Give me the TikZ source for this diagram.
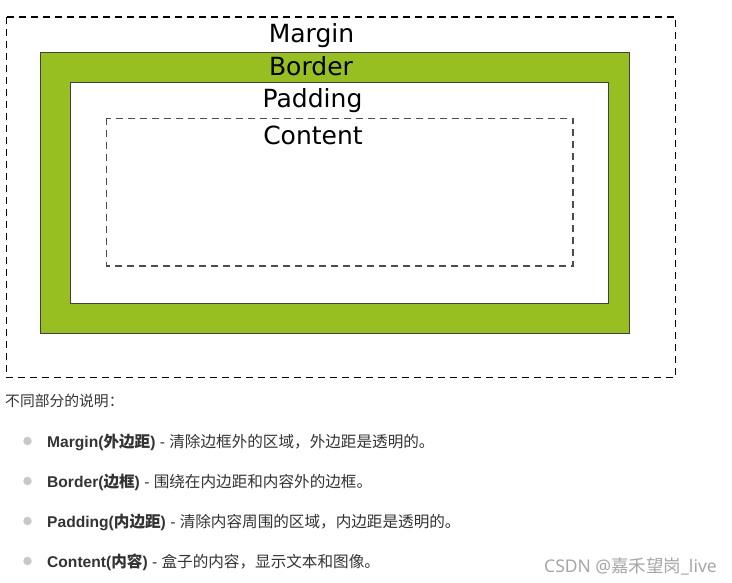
\documentclass[tikz,border=0pt]{standalone}
\usepackage{fontspec}
\setmainfont{Liberation Sans}
\newfontfamily\cjk{Noto Sans CJK SC}
\newfontfamily\dv{DejaVu Sans}
\newfontfamily\nsans{Noto Sans}
\definecolor{bordergreen}{HTML}{98BF21}
\definecolor{txt}{HTML}{333333}
\definecolor{bul}{HTML}{C8C8C8}
\tikzset{
  lbl/.style={anchor=base, inner sep=0pt, font=\dv\fontsize{25}{28}\selectfont},
  itemtext/.style={anchor=base west, inner sep=0pt, text=txt, font=\fontsize{15.6}{18}\selectfont},
  bulletdot/.style={circle, fill=bul, minimum size=8.5pt, inner sep=0pt},
  marginbox/.style={draw=black, line width=1.1pt, dash pattern=on 7pt off 5pt},
  contentbox/.style={draw=black!70, line width=1.1pt, dash pattern=on 7pt off 5pt},
}
\begin{document}
\begin{tikzpicture}[x=1pt,y=-1pt]
\useasboundingbox (0,0) rectangle (732,583);
% boxes
\draw[marginbox] (6.5,17) rectangle (675.5,377.5);
\draw[fill=bordergreen, draw=black!75, line width=1pt] (40,52.5) rectangle (629,333.5);
\draw[fill=white, draw=black!75, line width=1pt] (70,83) rectangle (608,303.5);
\draw[contentbox] (106.5,118.5) rectangle (573,266);
% labels
\node[lbl] (m) at (311.5,43) {Margin};
\node[lbl] (b) at (311,76) {Border};
\node[lbl] (p) at (312.5,108) {Padding};
\node[lbl] (c) at (313,145) {Content};
% description
\node[anchor=base west, inner sep=0pt, text=txt, font=\cjk\fontsize{14.8}{18}\selectfont] (h) at (5,406) {不同部分的说明：};
\foreach \y/\n in {441/1,481/2,521/3,561/4} \node[bulletdot] (d\n) at (27.5,\y) {};
\node[itemtext] (t1) at (47,447) {\textbf{Margin(}{\cjk\bfseries 外边距}\textbf{)} - {\cjk 清除边框外的区域，外边距是透明的。}};
\node[itemtext] (t2) at (47,487) {\textbf{Border(}{\cjk\bfseries 边框}\textbf{)} - {\cjk 围绕在内边距和内容外的边框。}};
\node[itemtext] (t3) at (47,527) {\textbf{Padding(}{\cjk\bfseries 内边距}\textbf{)} - {\cjk 清除内容周围的区域，内边距是透明的。}};
\node[itemtext] (t4) at (47,567) {\textbf{Content(}{\cjk\bfseries 内容}\textbf{)} - {\cjk 盒子的内容，显示文本和图像。}};
% watermark
\node[anchor=base west, inner sep=0pt, text=black!35, font=\nsans\fontsize{17.5}{20}\selectfont] (w) at (544,572) {CSDN @{\cjk 嘉禾望岗}\_live};
\end{tikzpicture}
\end{document}
